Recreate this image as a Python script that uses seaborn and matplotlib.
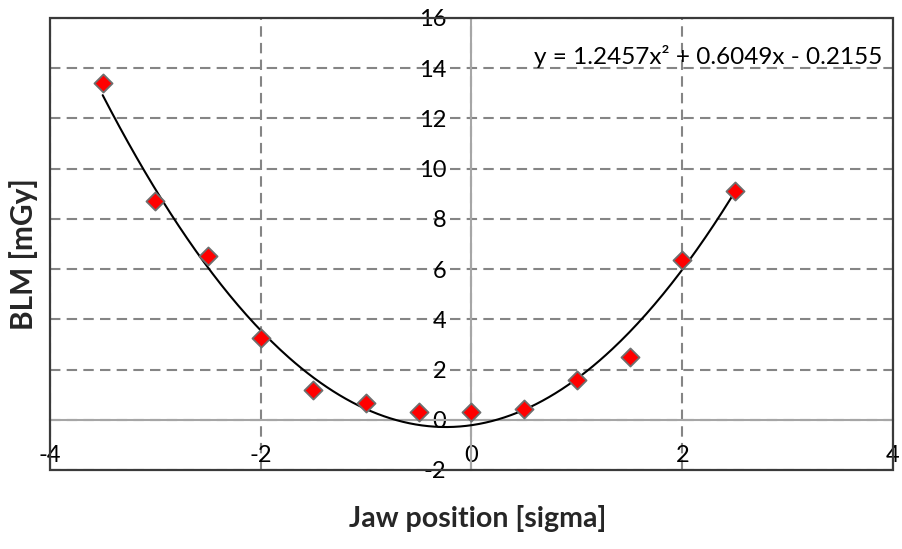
import numpy as np
import pandas as pd
import matplotlib
matplotlib.use("Agg")
import matplotlib.pyplot as plt
import seaborn as sns
from matplotlib.patches import Rectangle

# ---- data ----
jaw_position = [-3.5, -3.0, -2.5, -2.0, -1.5, -1.0, -0.5, 0.0, 0.5, 1.0, 1.5, 2.0, 2.5]
blm_mgy = [13.4, 8.72, 6.53, 3.27, 1.2, 0.68, 0.32, 0.32, 0.44, 1.6, 2.5, 6.37, 9.12]
fit_coeffs = [1.2457, 0.6049, -0.2155]   # quadratic trendline shown on the chart
x_ticks = [-4, -2, 0, 2, 4]
y_ticks = [-2, 0, 2, 4, 6, 8, 10, 12, 14, 16]
x_label = "Jaw position [sigma]"
y_label = "BLM [mGy]"

sns.set_theme(style="white")
plt.rcParams["font.family"] = ["Lato", "DejaVu Sans"]
plt.rcParams["axes.unicode_minus"] = False

W, H = 903, 549
fig = plt.figure(figsize=(W / 100, H / 100), dpi=100)
ax = fig.add_axes([50 / W, 1 - 470 / H, 843 / W, 452 / H])
ax.set_xlim(-4, 4)
ax.set_ylim(-2, 16)
ax.set_xticks(x_ticks)
ax.set_yticks(y_ticks)

# dashed grid
ax.grid(True, linestyle=(0, (5, 3)), color="#858585", linewidth=1.5)
ax.set_axisbelow(True)

# axes crossing at origin
for side in ("left", "bottom"):
    ax.spines[side].set_position(("data", 0))
    ax.spines[side].set_color("#a6a6a6")
    ax.spines[side].set_linewidth(1.5)
    ax.spines[side].set_zorder(1.5)
for side in ("top", "right"):
    ax.spines[side].set_visible(False)
ax.add_patch(Rectangle((0, 0), 1, 1, transform=ax.transAxes, fill=False,
                       edgecolor="#3a3a3a", linewidth=1.6, clip_on=False, zorder=5))

ax.tick_params(axis="x", length=0, pad=18, labelsize=17, labelcolor="black")
ax.tick_params(axis="y", length=0, pad=18, labelsize=17, labelcolor="black")

# trendline from the displayed equation
a, b, c = fit_coeffs
xs = np.linspace(min(jaw_position), max(jaw_position), 300)
ys = a * xs ** 2 + b * xs + c
sns.lineplot(x=xs, y=ys, color="black", linewidth=1.5, ax=ax, zorder=3)

sns.scatterplot(x=jaw_position, y=blm_mgy, marker="D", s=85, color="red",
                edgecolor="#6e6e6e", linewidth=1.3, zorder=4, ax=ax)

eq = f"y = {a:.4f}x\u00b2 + {b:.4f}x - {abs(c):.4f}"
ax.text(3.9, 14.45, eq, ha="right", va="center", fontsize=17.5, color="black")

ax.set_xlabel("")
ax.set_ylabel("")
fig.text(478 / W, 1 - 518 / H, x_label, ha="center", va="center",
         fontsize=20.5, fontweight="bold")
fig.text(24 / W, 1 - 254 / H, y_label, ha="center", va="center",
         fontsize=21.5, fontweight="bold", rotation=90)

fig.savefig("out.png", dpi=100)
